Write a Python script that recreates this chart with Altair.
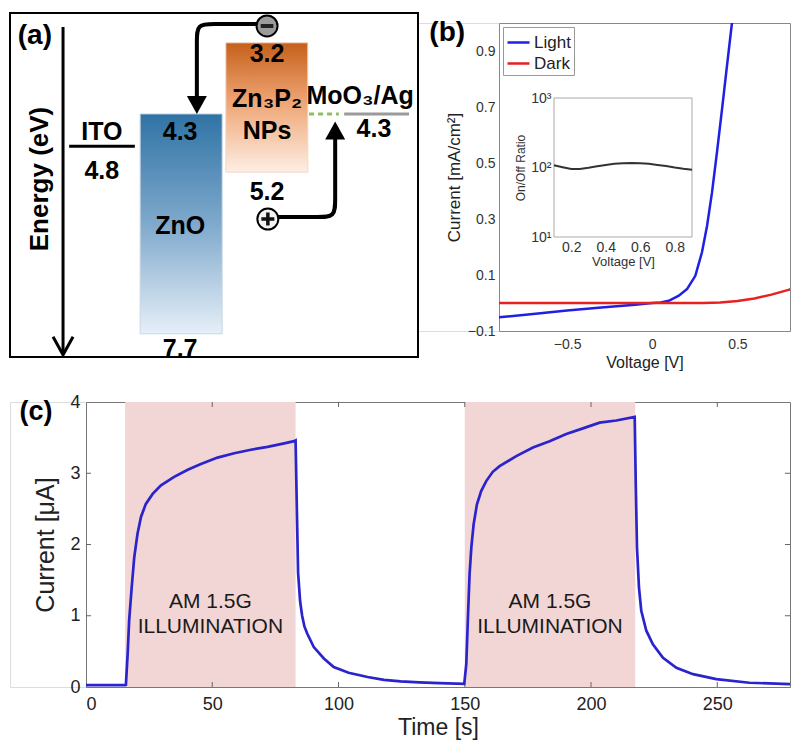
import altair as alt
import pandas as pd

FONT = "Liberation Sans"

# ================= data =================
# (a) energy levels [eV]
ito_level = 4.8
zno_cb, zno_vb = 4.3, 7.7
znp_cb, znp_vb = 3.2, 5.2
moo3_level = 4.3

# (b) J-V curves
light_v = [-0.9, -0.7, -0.5, -0.3, -0.1, 0.0, 0.05, 0.097, 0.156, 0.205, 0.253, 0.292,
           0.322, 0.351, 0.38, 0.41, 0.439, 0.468, 0.48]
light_j = [-0.051, -0.039, -0.027, -0.016, -0.006, 0.0, 0.002, 0.008, 0.026, 0.05, 0.097, 0.181,
           0.276, 0.395, 0.538, 0.693, 0.848, 1.0, 1.07]
dark_v = [-0.9, -0.5, 0.0, 0.3, 0.4, 0.5, 0.6, 0.7, 0.8, 0.86]
dark_j = [0.0, 0.0, 0.0, 0.0, 0.002, 0.007, 0.016, 0.03, 0.047, 0.058]

# (b) inset: on/off ratio
ratio_v = [0.1, 0.15, 0.2, 0.25, 0.3, 0.35, 0.4, 0.45, 0.5, 0.55, 0.6, 0.65, 0.7, 0.75, 0.8, 0.85, 0.9]
ratio = [108, 101, 95, 95, 99, 104, 109, 113, 115, 116, 115, 113, 109, 105, 100, 96, 93]

# (c) photocurrent transient
time_s = [0, 15.5, 15.8, 16.5, 17.1, 18.1, 19.1, 20.4, 21.8, 23.7, 26.4, 29.7, 34.9, 40.3, 45.5,
          52.1, 58.7, 65.3, 71.9, 78.5, 82.4, 83.0, 83.5, 84.0, 84.8, 85.6, 86.5, 87.6, 90.2, 94.2,
          98.1, 104, 111.5, 118, 124.6, 132, 140, 149.8, 150.6, 151.3, 151.9, 152.6, 153.5, 154.8,
          156.5, 158.5, 161.1, 163.8, 170.4, 177.0, 183.6, 190.2, 196.8, 203.4, 210.0, 217.3,
          217.7, 218.2, 219.0, 219.9, 221.9, 224.5, 228.5, 233.8, 240.4, 249.6, 262.7, 282]
current_ua = [0.025, 0.025, 0.03, 0.47, 0.94, 1.40, 1.82, 2.15, 2.39, 2.57, 2.71, 2.83, 2.95, 3.05, 3.13,
              3.22, 3.28, 3.33, 3.37, 3.42, 3.45, 3.46, 2.5, 1.6, 1.2, 1.0, 0.85, 0.75, 0.56, 0.40,
              0.28, 0.20, 0.14, 0.10, 0.08, 0.065, 0.055, 0.045, 0.32, 1.02, 1.58, 1.96, 2.28, 2.56,
              2.75, 2.89, 3.02, 3.10, 3.24, 3.36, 3.45, 3.55, 3.63, 3.71, 3.74, 3.79,
              2.89, 1.96, 1.39, 1.07, 0.79, 0.60, 0.41, 0.27, 0.18, 0.11, 0.06, 0.035]
illum_start = [15.5, 150.0]
illum_end = [83.0, 217.5]
illum_label_t = [49.25, 183.75]

# ================= panel (a): band diagram =================
AX = alt.Scale(domain=[0, 100], range=[0, 408], nice=False, zero=False)
AY = alt.Scale(domain=[3.2, 7.7], range=[19.8, 310.8], nice=False, zero=False)


def ax(f):
    return alt.X(f, type="quantitative", scale=AX, axis=None)


def ay(f):
    return alt.Y(f, type="quantitative", scale=AY, axis=None)


frame_a = alt.Chart(pd.DataFrame({"x0": [0.0], "x1": [100.0], "e0": [2.739], "e1": [8.059]})).mark_rect(
    fill="white", stroke="black", strokeWidth=2
).encode(x=ax("x0"), x2="x1", y=ay("e0"), y2="e1")

zno_grad = alt.Gradient(gradient="linear", x1=0, x2=0, y1=0, y2=1,
                        stops=[alt.GradientStop(color="#2f73a5", offset=0),
                               alt.GradientStop(color="#7fa9cc", offset=0.5),
                               alt.GradientStop(color="#e6eff8", offset=1)])
znp_grad = alt.Gradient(gradient="linear", x1=0, x2=0, y1=0, y2=1,
                        stops=[alt.GradientStop(color="#c5601b", offset=0),
                               alt.GradientStop(color="#eea473", offset=0.45),
                               alt.GradientStop(color="#fdeee4", offset=1)])

zno_box = alt.Chart(pd.DataFrame({"x0": [31.9], "x1": [52.0], "e0": [zno_cb], "e1": [zno_vb]})).mark_rect(
    fill=zno_grad, stroke="#c9d6e2", strokeWidth=1
).encode(x=ax("x0"), x2="x1", y=ay("e0"), y2="e1")

znp_box = alt.Chart(pd.DataFrame({"x0": [52.9], "x1": [73.0], "e0": [znp_cb], "e1": [znp_vb]})).mark_rect(
    fill=znp_grad, stroke="#f2d8c6", strokeWidth=1
).encode(x=ax("x0"), x2="x1", y=ay("e0"), y2="e1")

ito_line = alt.Chart(pd.DataFrame({"x0": [14.5], "x1": [30.6], "e": [ito_level]})).mark_rule(
    color="black", strokeWidth=3
).encode(x=ax("x0"), x2="x1", y=ay("e"))

green_dash = alt.Chart(pd.DataFrame({"x0": [73.3], "x1": [80.6], "e": [moo3_level]})).mark_rule(
    color="#8dbf5f", strokeWidth=3, strokeDash=[5, 4]
).encode(x=ax("x0"), x2="x1", y=ay("e"))

moo3_line = alt.Chart(pd.DataFrame({"x0": [81.9], "x1": [97.8], "e": [moo3_level]})).mark_rule(
    color="#9a9a9a", strokeWidth=3
).encode(x=ax("x0"), x2="x1", y=ay("e"))

energy_axis = alt.Chart(pd.DataFrame({"x": [13.0], "e0": [2.956], "e1": [8.0]})).mark_rule(
    color="black", strokeWidth=3
).encode(x=ax("x"), y=ay("e0"), y2="e1")

energy_head = alt.Chart(pd.DataFrame({"x": [13.0], "e": [8.025]})).mark_point(
    shape="M -1 -1.8 L 0 0 L 1 -1.8", filled=False, stroke="black", strokeWidth=3, size=400, opacity=1
).encode(x=ax("x"), y=ay("e"))

paths = pd.DataFrame({
    "path": ["e"] * 7 + ["h"] * 7,
    "ord": list(range(7)) * 2,
    "x": [61.0, 55.0, 50.0, 45.8, 45.8, 45.8, 45.8, 64.0, 70.0, 75.5, 79.7, 79.7, 79.7, 79.7],
    "e": [2.91, 2.91, 2.91, 2.91, 3.16, 3.6, 4.12, 5.894, 5.894, 5.894, 5.894, 5.64, 5.1, 4.6],
})
arrow_lines = alt.Chart(paths).mark_line(color="black", strokeWidth=4, interpolate="basis").encode(
    x=ax("x"), y=ay("e"), detail="path:N", order="ord:Q")

head_down = alt.Chart(pd.DataFrame({"x": [45.8], "e": [4.3]})).mark_point(
    shape="M -1 -1.8 L 1 -1.8 L 0 0 Z", filled=True, fill="black", strokeWidth=0, size=400, opacity=1
).encode(x=ax("x"), y=ay("e"))
head_up = alt.Chart(pd.DataFrame({"x": [79.7], "e": [4.417]})).mark_point(
    shape="M -1 1.8 L 1 1.8 L 0 0 Z", filled=True, fill="black", strokeWidth=0, size=400, opacity=1
).encode(x=ax("x"), y=ay("e"))

carriers = pd.DataFrame({"x": [63.0, 63.2], "e": [2.94, 5.925], "kind": ["e", "h"]})
circ_e = alt.Chart(carriers.iloc[[0]]).mark_point(
    shape="circle", filled=True, fill="#9b9b9b", stroke="black", strokeWidth=2, size=441, opacity=1
).encode(x=ax("x"), y=ay("e"))
circ_h = alt.Chart(carriers.iloc[[1]]).mark_point(
    shape="circle", filled=True, fill="#f2f2f2", stroke="black", strokeWidth=2, size=441, opacity=1
).encode(x=ax("x"), y=ay("e"))
minus = alt.Chart(carriers.iloc[[0]]).mark_point(
    shape="M -0.6 0 L 0.6 0", filled=False, stroke="#222", strokeWidth=4, size=441, opacity=1
).encode(x=ax("x"), y=ay("e"))
plus = alt.Chart(carriers.iloc[[1]]).mark_point(
    shape="M -0.62 0 L 0.62 0 M 0 -0.62 L 0 0.62", filled=False, stroke="#111", strokeWidth=3.5,
    size=441, opacity=1
).encode(x=ax("x"), y=ay("e"))

a_text = pd.DataFrame({
    "t": ["ITO", "4.8", "4.3", "ZnO", "7.7", "3.2", "Zn₃P₂", "NPs", "5.2", "MoO₃/Ag", "4.3"],
    "x": [22.5, 22.5, 41.7, 41.7, 41.7, 63.0, 63.0, 63.0, 63.0, 85.8, 89.2],
    "e": [4.58, 5.18, 4.58, 6.03, 7.93, 3.37, 4.07, 4.565, 5.51, 4.02, 4.53],
})
labels_a = alt.Chart(a_text).mark_text(
    font=FONT, fontWeight="bold", fontSize=25, color="black", align="center", baseline="middle"
).encode(x=ax("x"), y=ay("e"), text="t:N")

tag_a = alt.Chart(pd.DataFrame({"t": ["(a)"], "x": [6.1], "e": [3.095]})).mark_text(
    font=FONT, fontWeight="bold", fontSize=28, color="black", align="center", baseline="middle"
).encode(x=ax("x"), y=ay("e"), text="t:N")

energy_title = alt.Chart(pd.DataFrame({"t": ["Energy (eV)"], "x": [7.35], "e": [5.306]})).mark_text(
    font=FONT, fontWeight="bold", fontSize=26, color="black", align="center", baseline="middle", angle=270
).encode(x=ax("x"), y=ay("e"), text="t:N")

panel_a = alt.layer(
    frame_a, zno_box, znp_box, ito_line, green_dash, moo3_line, energy_axis, energy_head,
    arrow_lines, head_down, head_up, circ_e, circ_h, minus, plus, labels_a, tag_a, energy_title
).properties(width=489, height=308)

# ================= panel (b): J-V =================
VS = alt.Scale(domain=[-0.9, 0.809], nice=False, zero=False)
JS = alt.Scale(domain=[-0.1, 1.0], nice=False, zero=False)

iv = pd.DataFrame({
    "v": light_v + dark_v,
    "j": light_j + dark_j,
    "series": ["Light"] * len(light_v) + ["Dark"] * len(dark_v),
})

iv_lines = alt.Chart(iv).mark_line(strokeWidth=2.5, clip=True).encode(
    x=alt.X("v:Q", scale=VS, axis=alt.Axis(
        values=[-0.5, 0, 0.5], format="~g", title="Voltage [V]", grid=False, domain=False, ticks=False,
        labelFont=FONT, labelFontSize=14, labelColor="#333", labelPadding=6, labelOverlap=False,
        titleFont=FONT, titleFontSize=16, titleFontWeight="normal", titleColor="#222", titlePadding=3)),
    y=alt.Y("j:Q", scale=JS, axis=alt.Axis(
        values=[-0.1, 0, 0.1, 0.2, 0.3, 0.4, 0.5, 0.6, 0.7, 0.8, 0.9], format="~g",
        title="Current [mA/cm²]", grid=False, domain=False, ticks=False, labelOverlap=False,
        labelFont=FONT, labelFontSize=14, labelColor="#333", labelPadding=4,
        titleFont=FONT, titleFontSize=17, titleFontWeight="normal", titleColor="#222", titlePadding=4)),
    color=alt.Color("series:N", scale=alt.Scale(domain=["Light", "Dark"], range=["#1f1fe6", "#e82020"]),
                    legend=alt.Legend(title=None, orient="none", legendX=4, legendY=4,
                                      symbolType="stroke", symbolSize=484, symbolStrokeWidth=2.5,
                                      labelFont=FONT, labelFontSize=17, labelColor="#222",
                                      fillColor="white", strokeColor="#999", padding=3,
                                      rowPadding=0, labelOffset=3)),
)

tag_b = alt.Chart(pd.DataFrame({"t": ["(b)"], "v": [-1.204], "j": [0.964]})).mark_text(
    font=FONT, fontWeight="bold", fontSize=28, color="black", align="center", baseline="middle"
).encode(x=alt.X("v:Q", scale=VS), y=alt.Y("j:Q", scale=JS), text="t:N")

IX = alt.Scale(domain=[0.1, 0.9], range=[55, 193], nice=False, zero=False)
IY = alt.Scale(type="log", domain=[10, 1000], range=[214, 75], nice=False)

inset_frame = alt.Chart(pd.DataFrame({"v0": [0.1], "v1": [0.9], "r0": [10], "r1": [1000]})).mark_rect(
    fill="white", stroke="#aaa", strokeWidth=1
).encode(
    x=alt.X("v0:Q", scale=IX, axis=alt.Axis(
        orient="bottom", offset=-94, values=[0.2, 0.4, 0.6, 0.8], format=".1f", title="Voltage [V]",
        grid=False, domain=False, ticks=False, labelFont=FONT, labelFontSize=14, labelColor="#333",
        labelPadding=3, labelOverlap=False, titleFont=FONT, titleFontSize=13, titleFontWeight="normal",
        titleColor="#333", titlePadding=1)),
    x2="v1",
    y=alt.Y("r0:Q", scale=IY, axis=alt.Axis(
        orient="left", offset=-55, values=[10, 100, 1000],
        labelExpr="datum.value == 10 ? '10¹' : (datum.value == 100 ? '10²' : '10³')",
        title="On/Off Ratio", grid=False, domain=False, ticks=False, labelFont=FONT, labelFontSize=14,
        labelColor="#333", labelPadding=3, labelOverlap=False, titleFont=FONT, titleFontSize=12,
        titleFontWeight="normal", titleColor="#333", titlePadding=3)),
    y2="r1",
)
inset_line = alt.Chart(pd.DataFrame({"v": ratio_v, "r": ratio})).mark_line(color="#333", strokeWidth=2).encode(
    x=alt.X("v:Q", scale=IX), y=alt.Y("r:Q", scale=IY))

main_b = alt.layer(iv_lines, tag_b)
inset_b = alt.layer(inset_frame, inset_line)
panel_b = alt.layer(main_b, inset_b).resolve_scale(x="independent", y="independent").properties(
    width=291, height=308, view=alt.ViewBackground(stroke="#888", strokeWidth=1))

# ================= panel (c): transient =================
T_END = 278.8
TS = alt.Scale(domain=[0, T_END], nice=False, zero=False)
CS = alt.Scale(domain=[0, 4], nice=False, zero=False)

shade = alt.Chart(pd.DataFrame({"t0": illum_start, "t1": illum_end})).mark_rect(color="#f2d6d6").encode(
    x=alt.X("t0:Q", scale=TS, axis=alt.Axis(
        values=[0, 50, 100, 150, 200, 250], format="d", title="Time [s]", grid=False, domain=False,
        ticks=False, labelFont=FONT, labelFontSize=18, labelColor="#222", labelPadding=8,
        titleFont=FONT, titleFontSize=23, titleFontWeight="normal", titleColor="#222", titlePadding=3)),
    x2="t1",
    y=alt.Y(datum=0, scale=CS, axis=alt.Axis(
        values=[0, 1, 2, 3, 4], format="d", title="Current [μA]", grid=False, domain=False, ticks=False,
        labelFont=FONT, labelFontSize=18, labelColor="#222", labelPadding=6,
        titleFont=FONT, titleFontSize=25, titleFontWeight="normal", titleColor="#222", titlePadding=11)),
    y2=alt.Y2(datum=4),
)

xt = [50, 100, 150, 200, 250]
yt = [1, 2, 3]
tick_df = pd.DataFrame({
    "x0": xt + xt + [0.0] * 3 + [T_END] * 3,
    "x1": xt + xt + [2.0] * 3 + [T_END - 2.0] * 3,
    "y0": [0.0] * 5 + [4.0] * 5 + yt + yt,
    "y1": [0.07] * 5 + [3.93] * 5 + yt + yt,
})
ticks_c = alt.Chart(tick_df).mark_rule(color="#666", strokeWidth=1).encode(
    x=alt.X("x0:Q", scale=TS), x2="x1", y=alt.Y("y0:Q", scale=CS), y2="y1")

curve = alt.Chart(pd.DataFrame({"t": time_s, "c": current_ua})).mark_line(
    color="#2b23cc", strokeWidth=2.7, clip=True).encode(x=alt.X("t:Q", scale=TS), y=alt.Y("c:Q", scale=CS))

ann = pd.DataFrame({
    "t": illum_label_t * 2,
    "c": [1.19, 1.19, 0.84, 0.84],
    "s": ["AM 1.5G", "AM 1.5G", "ILLUMINATION", "ILLUMINATION"],
})
ann_text = alt.Chart(ann).mark_text(font=FONT, fontSize=21, color="#1a1a1a", align="center",
                                    baseline="middle").encode(
    x=alt.X("t:Q", scale=TS), y=alt.Y("c:Q", scale=CS), text="s:N")

tag_c = alt.Chart(pd.DataFrame({"s": ["(c)"], "t": [-19.8], "c": [3.86]})).mark_text(
    font=FONT, fontWeight="bold", fontSize=27, color="black", align="center", baseline="middle"
).encode(x=alt.X("t:Q", scale=TS), y=alt.Y("c:Q", scale=CS), text="s:N")

panel_c = alt.layer(shade, ticks_c, curve, ann_text, tag_c).properties(
    width=704, height=285, view=alt.ViewBackground(stroke="#777", strokeWidth=1))

spacer = alt.Chart(pd.DataFrame({"z": [0]})).mark_point(opacity=0).encode(
    x=alt.X("z:Q", axis=None), y=alt.Y("z:Q", axis=None)).properties(width=76, height=285)

top = alt.hconcat(panel_a, panel_b, spacing=0, bounds="flush").resolve_scale(
    color="independent").resolve_legend(color="independent")
bottom = alt.hconcat(spacer, panel_c, spacing=0, bounds="flush")
chart = alt.vconcat(top, bottom, spacing=21).resolve_scale(
    color="independent").resolve_legend(color="independent").properties(
    padding={"left": 0, "top": 2, "right": 0, "bottom": 0}
).configure_view(stroke=None).configure(font=FONT)

chart.save("out.html", embed_options={"renderer": "svg", "actions": False})
